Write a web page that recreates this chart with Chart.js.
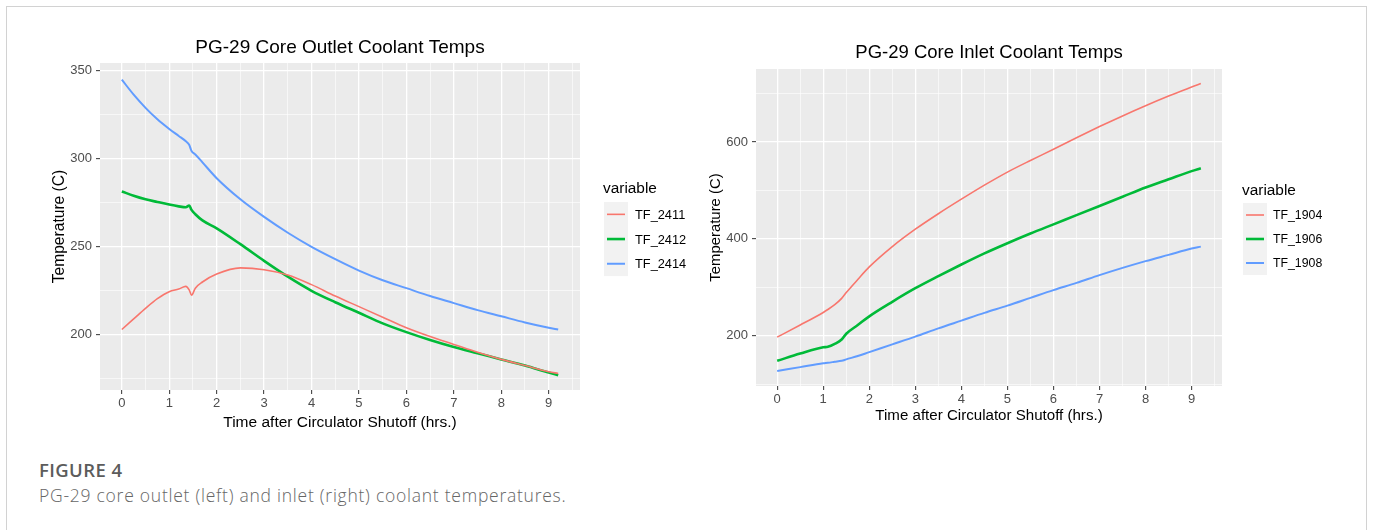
<!DOCTYPE html>
<html lang="en">
<head>
<meta charset="UTF-8">
<title>PG-29 Core Coolant Temps</title>
<script src="https://cdn.jsdelivr.net/npm/chart.js@4"></script>
<style>
  body { margin: 0; background: #fff; }
  #frame { position: absolute; left: 6px; top: 6px; width: 1361px; height: 540px; border: 1.5px solid #d2d2d2; box-sizing: border-box; }
  canvas { position: absolute; top: 0; }
  #outlet { left: 0; }
  #inlet { left: 690px; }
  .fig { position: absolute; left: 39px; font-family: "Open Sans", sans-serif; white-space: nowrap; }
  #figNo { top: 457px; font-size: 18.5px; font-weight: 600; color: #5c5c5c; letter-spacing: 0.4px; }
  #figText { top: 483px; font-size: 17.5px; font-weight: 300; color: #666; letter-spacing: 0.75px; }
</style>
</head>
<body>
<div id="frame"></div>
<canvas id="outlet" width="690" height="440"></canvas>
<canvas id="inlet" width="683" height="440"></canvas>
<div class="fig" id="figNo">FIGURE 4</div>
<div class="fig" id="figText">PG-29 core outlet (left) and inlet (right) coolant temperatures.</div>
<script>
// outlet panel (left)
const outletHours = [0, 0.25, 0.5, 0.75, 1, 1.2, 1.35, 1.42, 1.47, 1.55, 1.7, 2, 2.5, 3, 3.5, 4, 4.5, 5, 5.5, 6, 6.5, 7, 7.5, 8, 8.5, 9, 9.2];
const tf2411 = [203, 209, 215, 220.5, 224.5, 226, 227.5, 225.5, 222.5, 226.5, 230, 234.5, 238, 237, 234, 228.5, 222, 216, 210, 204, 199, 194.5, 190, 186, 182.5, 179, 178];
const tf2412 = [281.5, 279, 277, 275.5, 274, 273, 272.5, 273.5, 271, 268.5, 265, 260.5, 251.5, 242, 233, 225, 218.5, 212.5, 206.5, 201.5, 197, 193, 189.5, 186, 182.5, 178.5, 177];
const tf2414 = [345, 336.5, 329, 322.5, 317, 313, 310, 308, 304.5, 302.5, 298, 289, 277, 267, 258, 250, 243, 236.5, 231, 226.5, 222, 218, 214, 210.5, 207, 204, 203];

// inlet panel (right)
const inletHours = [0, 0.5, 1, 1.1, 1.25, 1.4, 1.5, 1.75, 2, 2.5, 3, 3.5, 4, 4.5, 5, 5.5, 6, 6.5, 7, 7.5, 8, 8.5, 9, 9.2];
const tf1904 = [197, 222, 248, 254, 264, 277, 289, 316, 342, 384, 420, 452, 482, 511, 538, 562, 585, 609, 632, 654, 675, 695, 714, 721];
const tf1906 = [148, 163, 176, 177, 183, 192, 204, 222, 240, 270, 298, 323, 347, 370, 391, 411, 430, 449, 468, 487, 506, 523, 540, 546];
const tf1908 = [127, 135, 143, 144, 146, 148, 151, 158, 166, 182, 198, 215, 231, 247, 262, 278, 294, 309, 325, 340, 354, 367, 380, 384];

const hourTicks = [0, 1, 2, 3, 4, 5, 6, 7, 8, 9];
const hourMinor = [0.5, 1.5, 2.5, 3.5, 4.5, 5.5, 6.5, 7.5, 8.5, 9.5];
const outletTicks = [200, 250, 300, 350];
const outletMinor = [175, 225, 275, 325];
const inletTicks = [200, 400, 600];
const inletMinor = [100, 300, 500, 700];

const seriesColors = ['#F8766D', '#00BA38', '#619CFF'];
const seriesWidths = [1.6, 2.6, 2];
const FONT = '"Liberation Sans", Arial, sans-serif';

function pts(xs, ys) {
  return xs.map((x, i) => ({ x: x, y: ys[i] }));
}

function makeDatasets(xs, names, values) {
  return names.map((name, i) => ({
    label: name,
    data: pts(xs, values[i]),
    borderColor: seriesColors[i],
    borderWidth: seriesWidths[i],
    pointRadius: 0,
    cubicInterpolationMode: 'monotone',
    fill: false
  }));
}

// ggplot style gray panel + legend with gray key box
const ggPlugin = {
  id: 'gg',
  beforeDraw(chart) {
    const a = chart.chartArea, ctx = chart.ctx;
    ctx.save();
    ctx.fillStyle = '#EBEBEB';
    ctx.fillRect(a.left, a.top, a.right - a.left, a.bottom - a.top);
    ctx.restore();
  },
  afterDraw(chart, args, opts) {
    const ctx = chart.ctx;
    ctx.save();
    ctx.fillStyle = '#000';
    ctx.font = opts.titleSize + 'px ' + FONT;
    ctx.textBaseline = 'middle';
    ctx.fillText('variable', opts.x - 1, opts.titleY);
    ctx.fillStyle = '#F2F2F2';
    ctx.fillRect(opts.x, opts.boxTop, opts.keyW, opts.keyH * chart.data.datasets.length);
    chart.data.datasets.forEach((ds, i) => {
      const cy = opts.boxTop + opts.keyH * (i + 0.5);
      ctx.strokeStyle = ds.borderColor;
      ctx.lineWidth = ds.borderWidth;
      ctx.beginPath();
      ctx.moveTo(opts.x + 3, cy);
      ctx.lineTo(opts.x + opts.keyW - 3, cy);
      ctx.stroke();
      ctx.fillStyle = '#000';
      ctx.font = opts.labelSize + 'px ' + FONT;
      ctx.fillText(ds.label, opts.labelX, cy + 1);
    });
    ctx.restore();
  }
};

function axis(cfg) {
  const all = cfg.major.concat(cfg.minor).sort((a, b) => a - b);
  const isMajor = v => cfg.major.includes(v);
  return {
    type: 'linear',
    min: cfg.min,
    max: cfg.max,
    afterBuildTicks: s => { s.ticks = all.map(v => ({ value: v })); },
    afterFit: s => {
      if (cfg.width) s.width = cfg.width;
      if (cfg.height) s.height = cfg.height;
    },
    border: { display: false },
    grid: {
      color: '#FFFFFF',
      lineWidth: c => (c.tick && isMajor(c.tick.value)) ? 1.3 : 0.6,
      tickColor: c => (c.tick && isMajor(c.tick.value)) ? '#333333' : 'rgba(0,0,0,0)',
      tickWidth: 1,
      tickLength: 4
    },
    ticks: {
      autoSkip: false,
      maxRotation: 0,
      padding: cfg.tickPad,
      color: '#4D4D4D',
      font: { family: FONT, size: 13 },
      callback: v => isMajor(v) ? String(v) : ''
    },
    title: {
      display: true,
      text: cfg.title,
      color: '#000',
      font: { family: FONT, size: cfg.titleSize },
      padding: cfg.titlePad
    }
  };
}

function makeChart(id, o) {
  return new Chart(document.getElementById(id), {
    type: 'line',
    data: { datasets: o.datasets },
    options: {
      responsive: false,
      animation: false,
      devicePixelRatio: 1,
      layout: { padding: o.padding },
      plugins: {
        legend: { display: false },
        tooltip: { enabled: false },
        title: {
          display: true,
          text: o.title,
          fullSize: false,
          color: '#000',
          font: { family: FONT, size: o.titleSize, weight: 'normal' },
          padding: o.titlePad
        },
        gg: o.legend
      },
      scales: { x: o.x, y: o.y }
    },
    plugins: [ggPlugin]
  });
}

makeChart('outlet', {
  datasets: makeDatasets(outletHours, ['TF_2411', 'TF_2412', 'TF_2414'], [tf2411, tf2412, tf2414]),
  title: 'PG-29 Core Outlet Coolant Temps',
  titleSize: 19,
  titlePad: { top: 36, bottom: 4.2 },
  padding: { left: 0, top: 0, right: 110, bottom: 5 },
  x: axis({ min: -0.46, max: 9.66, major: hourTicks, minor: hourMinor, height: 45, tickPad: 1.5,
            title: 'Time after Circulator Shutoff (hrs.)', titleSize: 15.5, titlePad: { top: 0, bottom: 2.7 } }),
  y: axis({ min: 168.6, max: 354.5, major: outletTicks, minor: outletMinor, width: 100, tickPad: 4,
            title: 'Temperature (C)', titleSize: 15.6, titlePad: { top: 50.6, bottom: 0 } }),
  legend: { x: 604, titleY: 189, boxTop: 202, keyW: 24, keyH: 24.7, labelX: 635, titleSize: 15.4, labelSize: 12.8 }
});

makeChart('inlet', {
  datasets: makeDatasets(inletHours, ['TF_1904', 'TF_1906', 'TF_1908'], [tf1904, tf1906, tf1908]),
  title: 'PG-29 Core Inlet Coolant Temps',
  titleSize: 18.5,
  titlePad: { top: 41.9, bottom: 4.9 },
  padding: { left: 0, top: 0, right: 151, bottom: 14 },
  x: axis({ min: -0.46, max: 9.66, major: hourTicks, minor: hourMinor, height: 40, tickPad: 2,
            title: 'Time after Circulator Shutoff (hrs.)', titleSize: 15.1, titlePad: { top: 0, bottom: 1 } }),
  y: axis({ min: 96, max: 751, major: inletTicks, minor: inletMinor, width: 66, tickPad: 4,
            title: 'Temperature (C)', titleSize: 14.9, titlePad: { top: 17, bottom: 0 } }),
  legend: { x: 553, titleY: 191, boxTop: 203, keyW: 24, keyH: 24, labelX: 583, titleSize: 15.4, labelSize: 12.3 }
});
</script>
</body>
</html>
